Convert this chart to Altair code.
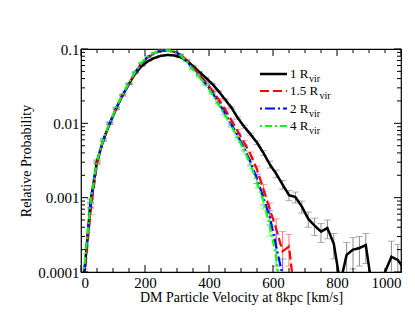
import altair as alt
import pandas as pd

V_BLACK = [10, 30, 50, 70, 90, 110, 130, 150, 170, 190, 210, 230, 250, 270, 290, 310, 330, 350,
           370, 390, 410, 430, 450, 470, 490, 510, 530, 550, 570, 590, 610, 630, 650, 670, 690,
           710, 730, 750, 770, 790, 810, 830, 850, 870, 890, 910, 930, 950, 970, 990, 1010]
P_BLACK = [0.00009, 0.0009, 0.0031, 0.0060, 0.0100, 0.0158, 0.024, 0.034, 0.047, 0.059, 0.069,
           0.076, 0.081, 0.083, 0.082, 0.078, 0.070, 0.059, 0.049, 0.041, 0.034, 0.027, 0.021,
           0.0163, 0.0118, 0.0090, 0.0071, 0.0055, 0.0040, 0.0028, 0.0021, 0.0015, 0.00108,
           0.00102, 0.00076, 0.00052, 0.00042, 0.00035, 0.00039, 0.00024, 0.00007, 0.00017,
           0.00020, 0.00021, 0.00023, 0.00006, 0.00005, 0.0001, 0.00016, 0.000145, 0.00011]
E_BLACK = [0.00001, 0.00006, 0.00012, 0.0002, 0.0003, 0.0004, 0.0005, 0.0006, 0.0007, 0.0008,
           0.0009, 0.0009, 0.0009, 0.0009, 0.0009, 0.0009, 0.0008, 0.0008, 0.0007, 0.0006, 0.0006,
           0.0005, 0.0005, 0.0004, 0.0004, 0.0004, 0.0003, 0.0003, 0.0003, 0.0003, 0.00025, 0.0002,
           0.00017, 0.00017, 0.00014, 0.00012, 0.00011, 0.0001, 0.00011, 0.00009, 0, 0.00008,
           0.00009, 0.00009, 0.0001, 0, 0, 0, 0.0001, 0.00009, 0]

V_RED = V_BLACK[:34]
P_RED = [0.00008, 0.00065, 0.0029, 0.0060, 0.0100, 0.0158, 0.024, 0.034, 0.048, 0.064, 0.078,
         0.088, 0.094, 0.095, 0.092, 0.085, 0.071, 0.056, 0.045, 0.036, 0.028, 0.021, 0.0155,
         0.011, 0.0078, 0.0055, 0.0038, 0.0024, 0.0013, 0.0007, 0.00038, 0.00019, 0.00022, 0.00004]
E_RED = [0.00001, 0.00006, 0.00012, 0.0002, 0.0003, 0.0004, 0.0005, 0.0006, 0.0007, 0.0008,
         0.0009, 0.0009, 0.0009, 0.0009, 0.0009, 0.0009, 0.0008, 0.0008, 0.0007, 0.0006, 0.0006,
         0.0005, 0.0005, 0.0004, 0.0004, 0.00035, 0.0003, 0.00025, 0.0002, 0.00015, 0.00014,
         0.00016, 0.0001, 0]

V_BLUE = V_BLACK[:33]
P_BLUE = [0.0001, 0.0008, 0.0030, 0.0060, 0.0101, 0.0160, 0.024, 0.034, 0.049, 0.065, 0.079,
          0.089, 0.095, 0.096, 0.092, 0.084, 0.069, 0.054, 0.043, 0.034, 0.026, 0.019, 0.0137,
          0.0096, 0.0068, 0.0046, 0.0030, 0.0018, 0.0010, 0.00055, 0.00022, 0.00009, 0.00003]
E_BLUE = [0.00001, 0.00006, 0.00012, 0.0002, 0.0003, 0.0004, 0.0005, 0.0006, 0.0007, 0.0008,
          0.0009, 0.0009, 0.0009, 0.0009, 0.0009, 0.0009, 0.0008, 0.0008, 0.0007, 0.0006, 0.0006,
          0.0005, 0.0005, 0.0004, 0.0004, 0.00035, 0.0003, 0.00025, 0.0002, 0.00012, 0.0001,
          0.00006, 0]

V_GREEN = V_BLACK[:32]
P_GREEN = [0.00011, 0.00088, 0.0031, 0.0061, 0.0102, 0.0162, 0.0245, 0.035, 0.050, 0.066, 0.080,
           0.090, 0.096, 0.096, 0.092, 0.083, 0.068, 0.053, 0.042, 0.033, 0.025, 0.018, 0.013,
           0.0092, 0.0064, 0.0043, 0.0028, 0.0016, 0.0009, 0.00042, 0.00016, 0.00003]
E_GREEN = [0.00001, 0.00007, 0.00012, 0.0002, 0.0003, 0.0004, 0.0005, 0.0006, 0.0007, 0.0008,
           0.0009, 0.0009, 0.0009, 0.0009, 0.0009, 0.0009, 0.0008, 0.0008, 0.0007, 0.0006, 0.0006,
           0.0005, 0.0005, 0.0004, 0.0004, 0.00035, 0.0003, 0.00025, 0.0002, 0.00012, 0.00008, 0]

SERIES = ["1 R", "1.5 R", "2 R", "4 R"]
LINE_COLORS = ["#000000", "#ff0000", "#0000ff", "#00ff00"]
BAR_COLORS = ["#8c8c8c", "#ff7070", "#7070ff", "#70ff70"]
DASHES = [[1, 0], [9, 4], [2, 3, 10, 3], [2, 3, 7, 3]]
WIDTHS = [2.5, 2.2, 2.2, 2.2]

X_TICKS = [0, 50, 100, 150, 200, 250, 300, 350, 400, 450, 500, 550, 600, 650, 700, 750, 800,
           850, 900, 950, 1000]
X_MAJOR = [0, 200, 400, 600, 800, 1000]
Y_MAJOR = [0.0001, 0.001, 0.01, 0.1]
Y_MINOR = [m * d for d in [0.0001, 0.001, 0.01] for m in [2, 3, 4, 5, 6, 7, 8, 9]]

W, H = 320, 223
FONT = "Times New Roman, Liberation Serif, serif"

xs = alt.Scale(domain=[0, 1000], nice=False, zero=False)
ys = alt.Scale(type="log", domain=[0.0001, 0.1], nice=False)

sets = [(V_BLACK, P_BLACK, E_BLACK), (V_RED, P_RED, E_RED),
        (V_BLUE, P_BLUE, E_BLUE), (V_GREEN, P_GREEN, E_GREEN)]

layers = []
# error bars first
for i, (v, p, e) in enumerate(sets):
    df = pd.DataFrame({"v": v, "p": p, "e": e})
    df = df[df["e"] > 0].copy()
    df["lo"] = (df["p"] - df["e"]).clip(lower=1e-6)
    df["hi"] = df["p"] + df["e"]
    base = alt.Chart(df)
    layers.append(base.mark_rule(color=BAR_COLORS[i], strokeWidth=1, clip=True).encode(
        x=alt.X("v:Q", scale=xs), y=alt.Y("lo:Q", scale=ys), y2="hi:Q"))
    for col in ["lo", "hi"]:
        layers.append(base.mark_tick(color=BAR_COLORS[i], orient="horizontal", size=7,
                                     thickness=1, clip=True).encode(
            x=alt.X("v:Q", scale=xs), y=alt.Y(f"{col}:Q", scale=ys)))

for i, (v, p, e) in enumerate(sets):
    df = pd.DataFrame({"v": v, "p": p})
    layers.append(alt.Chart(df).mark_line(color=LINE_COLORS[i], strokeWidth=WIDTHS[i],
                                          strokeDash=DASHES[i], clip=True).encode(
        x=alt.X("v:Q", scale=xs,
                axis=alt.Axis(values=X_MAJOR, ticks=False, domain=False, grid=False,
                              format="d", labelFont=FONT, labelFontSize=15,
                              labelColor="black", labelPadding=3,
                              title="DM Particle Velocity at 8kpc [km/s]", titleFont=FONT,
                              titleFontSize=14, titleFontWeight="normal",
                              titleColor="black", titlePadding=0)),
        y=alt.Y("p:Q", scale=ys,
                axis=alt.Axis(values=Y_MAJOR, ticks=False, domain=False, grid=False,
                              format=".4~f", labelFont=FONT, labelFontSize=15,
                              labelColor="black", labelPadding=2,
                              title="Relative Probability", titleFont=FONT,
                              titleFontSize=14, titleFontWeight="normal",
                              titleColor="black", titlePadding=4)),
        order=alt.Order("v:Q")))

# inward ticks on all four sides
xt = pd.DataFrame({"t": X_TICKS})
xt["major"] = xt["t"].isin(X_MAJOR)
for y0, sgn in [(H, -1), (0, 1)]:
    for major, ln in [(True, 7), (False, 4)]:
        layers.append(alt.Chart(xt[xt["major"] == major]).mark_rule(
            color="black", strokeWidth=1).encode(
            x=alt.X("t:Q", scale=xs), y=alt.value(y0), y2=alt.value(y0 + sgn * ln)))
ym = pd.DataFrame({"t": Y_MAJOR})
yn = pd.DataFrame({"t": Y_MINOR})
for x0, sgn in [(0, 1), (W, -1)]:
    for d, ln in [(ym, 7), (yn, 4)]:
        layers.append(alt.Chart(d).mark_rule(color="black", strokeWidth=1).encode(
            y=alt.Y("t:Q", scale=ys), x=alt.value(x0), x2=alt.value(x0 + sgn * ln)))

# legend
one = pd.DataFrame({"a": [0]})
LEG_Y = [25, 42, 59.5, 77]
SUB_X = [228, 238.5, 228, 228]
for i, name in enumerate(SERIES):
    layers.append(alt.Chart(one).mark_rule(color=LINE_COLORS[i], strokeWidth=WIDTHS[i],
                                           strokeDash=DASHES[i]).encode(
        x=alt.value(179), x2=alt.value(206), y=alt.value(LEG_Y[i])))
    layers.append(alt.Chart(one).mark_text(font=FONT, fontSize=13, align="left",
                                           baseline="middle", color="black").encode(
        x=alt.value(209), y=alt.value(LEG_Y[i]), text=alt.value(name)))
    layers.append(alt.Chart(one).mark_text(font=FONT, fontSize=10, align="left",
                                           baseline="middle", color="black").encode(
        x=alt.value(SUB_X[i]), y=alt.value(LEG_Y[i] + 5), text=alt.value("vir")))

chart = alt.layer(*layers).properties(
    width=W, height=H,
    autosize=alt.AutoSizeParams(type="none"),
    padding={"left": 73, "top": 41, "right": 6, "bottom": 41},
).configure_view(stroke="black", strokeWidth=1.2)

chart.save("out.html", embed_options={"renderer": "svg", "actions": False})
